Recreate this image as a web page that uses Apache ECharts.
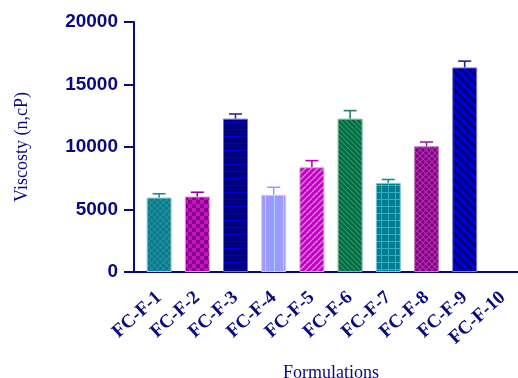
<!DOCTYPE html>
<html>
<head>
<meta charset="utf-8">
<script src="https://cdn.jsdelivr.net/npm/echarts@6/dist/echarts.min.js"></script>
<style>html,body{margin:0;padding:0;background:#fff}#c{width:518px;height:378px}</style>
</head>
<body>
<div id="c"></div>
<script>
// ---- data ----
const categories = ['FC-F-1','FC-F-2','FC-F-3','FC-F-4','FC-F-5','FC-F-6','FC-F-7','FC-F-8','FC-F-9','FC-F-10'];
const viscosity = [5960, 6040, 12270, 6170, 8380, 12270, 7130, 10060, 16370, null];
const errors    = [300, 340, 370, 610, 530, 640, 270, 340, 500, null];
const yTicks = [0, 5000, 10000, 15000, 20000];

// ---- styles ----
const NAVY = '#0a0a80';
function pat(w, h, base, draw) {
  const c = document.createElement('canvas');
  c.width = w; c.height = h;
  const g = c.getContext('2d');
  g.fillStyle = base; g.fillRect(0, 0, w, h);
  draw(g, w, h);
  return {image: c, repeat: 'repeat'};
}
function diag(g, w, h, col, lw, dir) {
  g.strokeStyle = col; g.lineWidth = lw;
  for (let k = -2; k <= 2; k++) {
    g.beginPath();
    if (dir > 0) { g.moveTo(k * w, h); g.lineTo(k * w + w, 0); }
    else { g.moveTo(k * w, 0); g.lineTo(k * w + w, h); }
    g.stroke();
  }
}
const styles = [
  {fill: pat(6, 6, '#1a8c9c', (g) => { g.fillStyle = '#0f7a8a'; g.fillRect(0,0,3,3); g.fillRect(3,3,3,3); }), border: '#9fd0d8', err: '#1a8a9a'},
  {fill: pat(8, 8, '#870087', (g) => { g.fillStyle = '#c312c3'; g.fillRect(0,0,4,4); g.fillRect(4,4,4,4); }), border: '#d8a0d8', err: '#8e008e'},
  {fill: pat(7, 7, '#00007f', (g) => { g.fillStyle = '#0000cc'; g.fillRect(0,3,7,1); }), border: '#7070b8', err: '#2a2a90'},
  {fill: pat(9, 9, '#9a9aff', (g) => { g.fillStyle = '#a8d4ff'; g.fillRect(4,0,1,9); }), border: '#c8c8ff', err: '#9a9aff'},
  {fill: pat(6, 6, '#c200c2', (g, w, h) => { diag(g, w, h, '#d880d8', 1.4, 1); }), border: '#e0a0e0', err: '#c000c0'},
  {fill: pat(5, 5, '#006a45', (g, w, h) => { diag(g, w, h, '#2f9a68', 1.2, -1); }), border: '#80b8a0', err: '#208060'},
  {fill: pat(7, 7, '#007e90', (g) => { g.fillStyle = '#38acc4'; g.fillRect(3,0,1,7); g.fillRect(0,3,7,1); }), border: '#80c8d8', err: '#1a8a9a'},
  {fill: pat(6, 6, '#800080', (g, w, h) => { diag(g, w, h, '#b030b0', 1.2, 1); diag(g, w, h, '#b030b0', 1.2, -1); }), border: '#c080c0', err: '#a020a0'},
  {fill: pat(9, 9, '#000080', (g, w, h) => { diag(g, w, h, '#0000e0', 3, -1); }), border: '#8080c0', err: '#202090'},
  {fill: '#000080', border: '#000080', err: '#000080'}
];

const barData = viscosity.map((v, i) => ({
  value: v,
  itemStyle: {color: styles[i].fill, borderColor: styles[i].border, borderWidth: 1}
}));
const errData = viscosity.map((v, i) => v == null ? null : [i, v, errors[i]]).filter(d => d);

const chart = echarts.init(document.getElementById('c'), null, {renderer: 'canvas'});
const gridLeft = 140, yOffset = 6;
chart.setOption({
  animation: false,
  grid: {left: gridLeft, right: -4, top: 22, bottom: 106, containLabel: false, outerBoundsMode: 'none'},
  xAxis: {
    type: 'category',
    data: categories,
    boundaryGap: true,
    axisLine: {lineStyle: {color: NAVY, width: 2}},
    axisTick: {alignWithLabel: true, length: 10, lineStyle: {color: NAVY, width: 2}},
    axisLabel: {
      rotate: 42, margin: 23, interval: 0,
      color: NAVY, fontFamily: 'Liberation Serif, Times New Roman, serif', fontWeight: 'bold', fontSize: 19
    },
    name: 'Formulations', nameLocation: 'middle', nameGap: 92,
    nameTextStyle: {color: NAVY, fontFamily: 'Liberation Serif, Times New Roman, serif', fontSize: 18}
  },
  yAxis: {
    type: 'value', min: yTicks[0], max: yTicks[yTicks.length - 1], interval: yTicks[1] - yTicks[0],
    offset: yOffset,
    axisLine: {show: true, lineStyle: {color: NAVY, width: 2}},
    axisTick: {show: true, length: 10, lineStyle: {color: NAVY, width: 2}},
    splitLine: {show: false},
    axisLabel: {color: NAVY, fontFamily: 'Liberation Sans, Arial, sans-serif', fontWeight: 'bold', fontSize: 19, margin: 16,
      formatter: (v) => String(v)},
    name: 'Viscosty (n,cP)', nameLocation: 'middle', nameGap: 103,
    nameTextStyle: {color: NAVY, fontFamily: 'Liberation Serif, Times New Roman, serif', fontSize: 18}
  },
  series: [
    {type: 'bar', data: barData, barWidth: 25},
    {
      type: 'custom', data: errData, z: 3,
      renderItem: function (params, api) {
        const i = api.value(0);
        const p0 = api.coord([i, api.value(1)]);
        const p1 = api.coord([i, api.value(1) + api.value(2)]);
        const col = styles[i].err;
        const st = {stroke: col, lineWidth: 1.6};
        return {type: 'group', children: [
          {type: 'line', shape: {x1: p0[0], y1: p0[1], x2: p1[0], y2: p1[1]}, style: st},
          {type: 'line', shape: {x1: p1[0] - 6.5, y1: p1[1], x2: p1[0] + 6.5, y2: p1[1]}, style: st}
        ]};
      }
    }
  ]
});
// close the corner gap between the offset y axis and the x axis line
const y0 = chart.convertToPixel({yAxisIndex: 0}, 0);
chart.setOption({graphic: [{type: 'line', shape: {x1: gridLeft - yOffset - 1, y1: y0, x2: gridLeft + 1, y2: y0}, style: {stroke: NAVY, lineWidth: 2}}]});
</script>
</body>
</html>
